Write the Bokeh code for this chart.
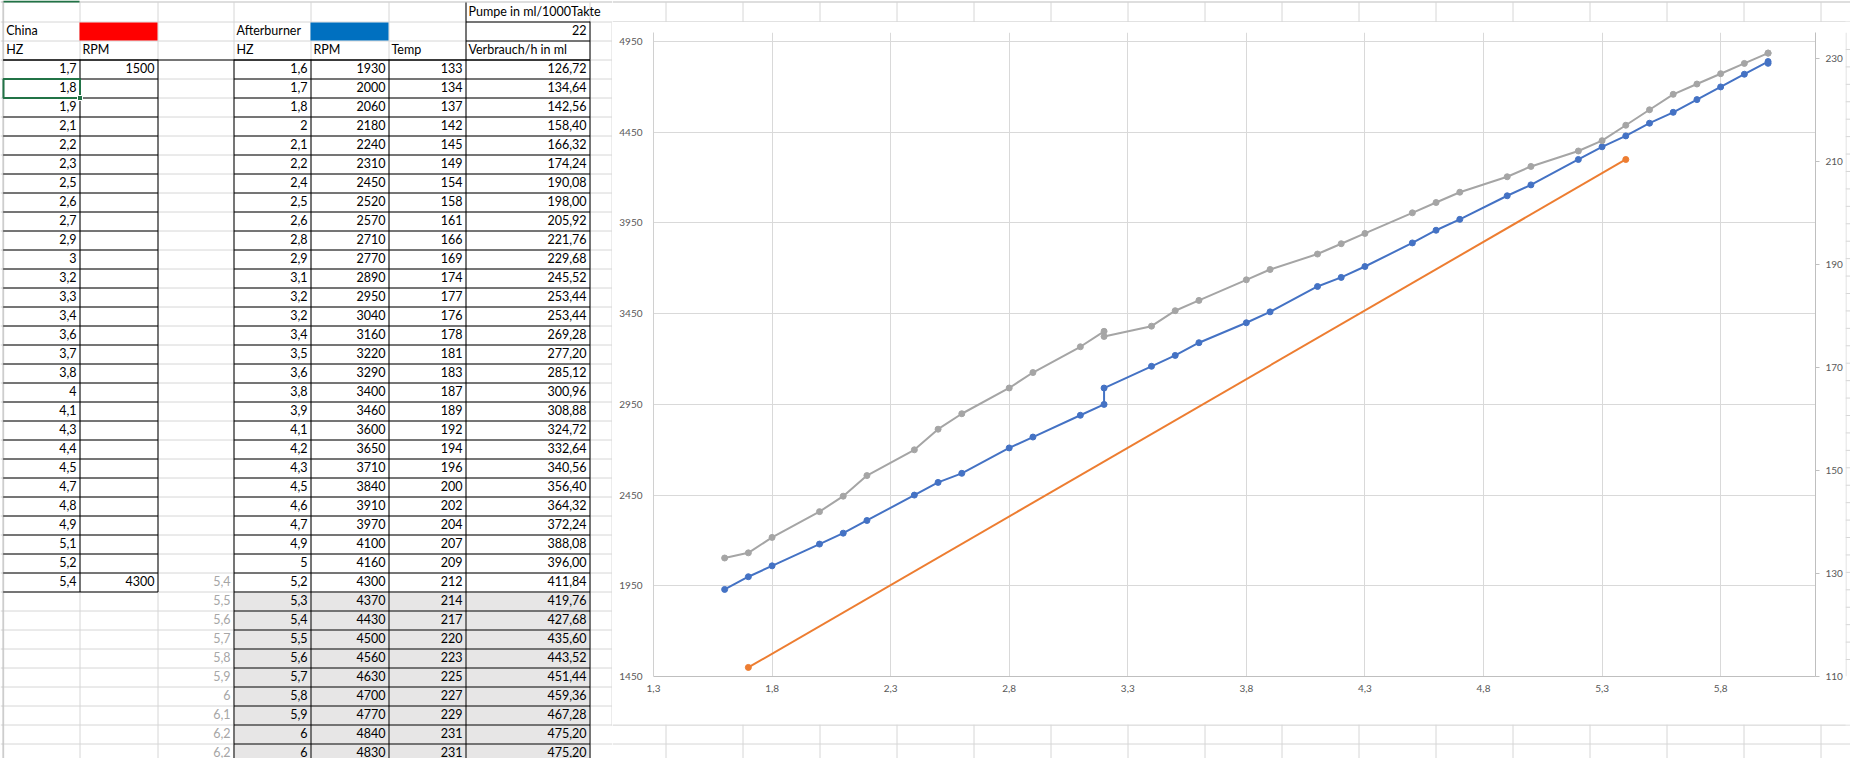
from bokeh.plotting import figure
from bokeh.layouts import row, column
from bokeh.models import Range1d, LinearAxis, FixedTicker, CustomJSTickFormatter
from bokeh.core.properties import value
from bokeh.embed import file_html
from bokeh.resources import INLINE

# ---------------- data ----------------
china_hz = [1.7, 1.8, 1.9, 2.1, 2.2, 2.3, 2.5, 2.6, 2.7, 2.9, 3.0, 3.2, 3.3, 3.4,
            3.6, 3.7, 3.8, 4.0, 4.1, 4.3, 4.4, 4.5, 4.7, 4.8, 4.9, 5.1, 5.2, 5.4]
china_rpm = [1500] + [None] * 26 + [4300]

ab_hz = [1.6, 1.7, 1.8, 2.0, 2.1, 2.2, 2.4, 2.5, 2.6, 2.8, 2.9, 3.1, 3.2, 3.2, 3.4,
         3.5, 3.6, 3.8, 3.9, 4.1, 4.2, 4.3, 4.5, 4.6, 4.7, 4.9, 5.0, 5.2, 5.3, 5.4,
         5.5, 5.6, 5.7, 5.8, 5.9, 6.0, 6.0]
ab_rpm = [1930, 2000, 2060, 2180, 2240, 2310, 2450, 2520, 2570, 2710, 2770, 2890,
          2950, 3040, 3160, 3220, 3290, 3400, 3460, 3600, 3650, 3710, 3840, 3910,
          3970, 4100, 4160, 4300, 4370, 4430, 4500, 4560, 4630, 4700, 4770, 4840, 4830]
ab_temp = [133, 134, 137, 142, 145, 149, 154, 158, 161, 166, 169, 174, 177, 176,
           178, 181, 183, 187, 189, 192, 194, 196, 200, 202, 204, 207, 209, 212,
           214, 217, 220, 223, 225, 227, 229, 231, 231]
ab_verbrauch = [126.72, 134.64, 142.56, 158.40, 166.32, 174.24, 190.08, 198.00,
                205.92, 221.76, 229.68, 245.52, 253.44, 253.44, 269.28, 277.20,
                285.12, 300.96, 308.88, 324.72, 332.64, 340.56, 356.40, 364.32,
                372.24, 388.08, 396.00, 411.84, 419.76, 427.68, 435.60, 443.52,
                451.44, 459.36, 467.28, 475.20, 475.20]
extra_hz = [5.4, 5.5, 5.6, 5.7, 5.8, 5.9, 6.0, 6.1, 6.2, 6.2]
pump_ml_per_1000 = 22

x_ticks = [1.3, 1.8, 2.3, 2.8, 3.3, 3.8, 4.3, 4.8, 5.3, 5.8]
rpm_ticks = [1450, 1950, 2450, 2950, 3450, 3950, 4450, 4950]
temp_ticks = [110, 130, 150, 170, 190, 210, 230]

# ---------------- geometry of the page (px) ----------------
PX0, PX1, PY0, PY1 = 0, 1850, 0, 758
CX0, CX1, CY0, CY1 = 612, 1845, 22, 724
ROW_TOP0, ROW_H = 2, 19
COL_EDGES = [2.7, 79, 157, 233, 310, 388, 465, 589] + [665 + 77 * k for k in range(16)]

GRID_C = "#D6D6D6"
HEAD_C = "#BDBDBD"
CHART_BORDER = "#D9D9D9"
SHEET_FONT = value("Lato")
SHEET_SIZE = "12.5px"


def row_top(r):
    return ROW_TOP0 + ROW_H * r


def fmt_hz(v):
    s = f"{v:.1f}"
    if s.endswith(".0"):
        s = s[:-2]
    return s.replace(".", ",")


def fmt2(v):
    return f"{v:.2f}".replace(".", ",")


def sheet_fig(x0, x1, y0, y1):
    p = figure(width=int(x1 - x0), height=int(y1 - y0),
               x_range=Range1d(x0, x1), y_range=Range1d(y1, y0),
               output_backend="svg", toolbar_location=None,
               x_axis_location=None, y_axis_location=None,
               min_border=0, outline_line_color=None,
               background_fill_color="white", border_fill_color="white")
    p.grid.visible = False
    return p


def grid_lines(p, x0, x1, y0, y1):
    hy = [row_top(k) + 0.5 for k in range(1, 42) if y0 <= row_top(k) + 0.5 <= y1]
    if hy:
        p.segment(x0=x0, y0=hy, x1=x1, y1=hy, line_color=GRID_C, line_width=1)
    vx = [e + 0.5 for e in COL_EDGES if x0 <= e + 0.5 <= x1]
    if vx:
        p.segment(x0=vx, y0=max(y0, 2), x1=vx, y1=y1, line_color=GRID_C, line_width=1)
    if y0 <= 1.5:
        p.segment(x0=x0, y0=1.5, x1=x1, y1=1.5, line_color=HEAD_C, line_width=1)


# ---------------- left part of the sheet ----------------
left = sheet_fig(PX0, CX0, PY0, PY1)
grid_lines(left, PX0, CX0, PY0, PY1)
left.segment(x0=2.5, y0=0, x1=2.5, y1=PY1, line_color=HEAD_C, line_width=1)

# coloured cells
left.quad(left=[79, 310], right=[157, 388], top=[row_top(1) + 1, row_top(1) + 1],
          bottom=[row_top(2), row_top(2)], fill_color=["#FF0000", "#0070C0"], line_color=None)
n_grey_rows = len(ab_hz) - 28
left.quad(left=233, right=589, top=row_top(31) + 1, bottom=row_top(31 + n_grey_rows) + 1,
          fill_color="#E7E6E6", line_color=None)

# black table borders
china_rows = len(china_hz)
hy = [row_top(r) + 0.5 for r in range(3, 3 + china_rows + 1)]
left.segment(x0=2.7, y0=hy, x1=157.5, y1=hy, line_color="black", line_width=1)
left.segment(x0=[79.5, 157.5], y0=row_top(3), x1=[79.5, 157.5], y1=row_top(3 + china_rows) + 0.5,
             line_color="black", line_width=1)

ab_rows = len(ab_hz)
hy = [row_top(r) + 0.5 for r in range(3, 3 + ab_rows + 1)]
left.segment(x0=233.5, y0=hy, x1=589.5, y1=hy, line_color="black", line_width=1)
vx = [233.5, 310.5, 388.5, 465.5, 589.5]
left.segment(x0=vx, y0=row_top(3), x1=vx, y1=row_top(3 + ab_rows) + 0.5,
             line_color="black", line_width=1)
# Pumpe / Verbrauch header box
left.segment(x0=[465.5, 589.5], y0=[2, row_top(1)], x1=[465.5, 589.5], y1=row_top(3),
             line_color="black", line_width=1)
left.segment(x0=465.5, y0=[row_top(1) + 0.5, row_top(2) + 0.5], x1=589.5,
             y1=[row_top(1) + 0.5, row_top(2) + 0.5], line_color="black", line_width=1)
left.segment(x0=2.7, y0=row_top(3) + 0.5, x1=589.5, y1=row_top(3) + 0.5,
             line_color="black", line_width=1)

# chart object border (left edge)
left.segment(x0=CX0 - 0.5, y0=CY0, x1=CX0 - 0.5, y1=CY1 + 1, line_color=CHART_BORDER, line_width=1)

# selected column header marker
left.segment(x0=3, y0=1, x1=79, y1=1, line_color="#217346", line_width=2)

# texts
lx, ly, lt = [], [], []
rx, ry, rt = [], [], []
PAD = 3
MID = 8.5


def put_left(col, r, s):
    lx.append(COL_EDGES[col] + PAD)
    ly.append(row_top(r) + MID)
    lt.append(s)


def put_right(col, r, s):
    rx.append(COL_EDGES[col + 1] - PAD)
    ry.append(row_top(r) + MID)
    rt.append(s)


put_left(6, 0, "Pumpe in ml/1000Takte")
put_left(0, 1, "China")
put_left(3, 1, "Afterburner")
put_right(6, 1, str(pump_ml_per_1000))
put_left(0, 2, "HZ")
put_left(1, 2, "RPM")
put_left(3, 2, "HZ")
put_left(4, 2, "RPM")
put_left(5, 2, "Temp")
put_left(6, 2, "Verbrauch/h in ml")
for i, (h, rpm) in enumerate(zip(china_hz, china_rpm)):
    put_right(0, 3 + i, fmt_hz(h))
    if rpm is not None:
        put_right(1, 3 + i, str(rpm))
for i, (h, rpm, t, v) in enumerate(zip(ab_hz, ab_rpm, ab_temp, ab_verbrauch)):
    put_right(3, 3 + i, fmt_hz(h))
    put_right(4, 3 + i, str(rpm))
    put_right(5, 3 + i, str(t))
    put_right(6, 3 + i, fmt2(v))

left.text(x=lx, y=ly, text=lt, text_align="left", text_baseline="middle",
          text_font=SHEET_FONT, text_font_size=SHEET_SIZE, text_color="black")
left.text(x=rx, y=ry, text=rt, text_align="right", text_baseline="middle",
          text_font=SHEET_FONT, text_font_size=SHEET_SIZE, text_color="black")
gx = [COL_EDGES[3] - PAD] * len(extra_hz)
gy = [row_top(30 + i) + MID for i in range(len(extra_hz))]
left.text(x=gx, y=gy, text=[fmt_hz(v) for v in extra_hz], text_align="right",
          text_baseline="middle", text_font=SHEET_FONT, text_font_size=SHEET_SIZE,
          text_color="#A6A6A6")

# selected cell
left.quad(left=3, right=79.5, top=row_top(4) + 0.5, bottom=row_top(5) + 0.5,
          fill_color=None, line_color="#217346", line_width=2)
left.quad(left=77, right=82, top=row_top(5) - 2, bottom=row_top(5) + 3,
          fill_color="#217346", line_color="white", line_width=1)

# ---------------- strips around the chart ----------------
top = sheet_fig(CX0, PX1, PY0, CY0)
grid_lines(top, CX0, PX1, PY0, CY0)
top.segment(x0=CX0, y0=CY0 - 0.5, x1=CX1, y1=CY0 - 0.5, line_color=CHART_BORDER, line_width=1)

bottom = sheet_fig(CX0, PX1, CY1, PY1)
grid_lines(bottom, CX0, PX1, CY1, PY1)
bottom.segment(x0=CX0, y0=CY1 + 0.5, x1=CX1, y1=CY1 + 0.5, line_color=CHART_BORDER, line_width=1)

rstrip = sheet_fig(CX1, PX1, CY0, CY1)
grid_lines(rstrip, CX1, PX1, CY0, CY1)
rstrip.segment(x0=CX1 + 0.5, y0=CY0, x1=CX1 + 0.5, y1=CY1, line_color=CHART_BORDER, line_width=1)

# ---------------- the chart ----------------
CH_W, CH_H = CX1 - CX0, CY1 - CY0
p = figure(width=CH_W, height=CH_H, x_range=Range1d(1.3, 6.2), y_range=Range1d(1450, 5000),
           output_backend="svg", toolbar_location=None,
           min_border_left=41, min_border_right=30, min_border_top=10, min_border_bottom=48,
           outline_line_color=None, background_fill_color="white", border_fill_color="white")
p.extra_y_ranges = {"temp": Range1d(110, 235)}

AX_FONT = "Lato"
AX_SIZE = "10px"
AX_COL = "#595959"

xa = p.xaxis[0]
xa.ticker = FixedTicker(ticks=x_ticks)
xa.formatter = CustomJSTickFormatter(code="return tick.toFixed(1).replace('.', ',');")
xa.major_tick_out = 0
xa.major_tick_in = 0
xa.minor_tick_out = 0
xa.minor_tick_in = 0
xa.major_label_standoff = 8
xa.axis_line_color = "#BFBFBF"

ya = p.yaxis[0]
ya.ticker = FixedTicker(ticks=rpm_ticks)
ya.major_tick_out = 0
ya.major_tick_in = 0
ya.minor_tick_out = 0
ya.minor_tick_in = 0
ya.major_label_standoff = 11
ya.axis_line_color = "#D0D0D0"

ra = LinearAxis(y_range_name="temp", ticker=FixedTicker(ticks=temp_ticks))
ra.major_tick_out = 4
ra.major_tick_in = 0
ra.minor_tick_out = 0
ra.minor_tick_in = 0
ra.major_label_standoff = 6
ra.axis_line_color = "#BFBFBF"
ra.major_tick_line_color = "#BFBFBF"
p.add_layout(ra, "right")

for ax in (xa, ya, ra):
    ax.major_label_text_font = AX_FONT
    ax.major_label_text_font_size = AX_SIZE
    ax.major_label_text_color = AX_COL

p.xgrid.grid_line_color = "#D9D9D9"
p.ygrid.grid_line_color = "#D9D9D9"
p.xgrid.ticker = FixedTicker(ticks=x_ticks)
p.ygrid.ticker = FixedTicker(ticks=rpm_ticks)

BLUE, ORANGE, GREY = "#4472C4", "#ED7D31", "#A5A5A5"

p.line(ab_hz, ab_rpm, line_color=BLUE, line_width=2)
p.scatter(ab_hz, ab_rpm, size=6, fill_color=BLUE, line_color=BLUE)

cx = [h for h, r in zip(china_hz, china_rpm) if r is not None]
cy = [r for r in china_rpm if r is not None]
p.line(cx, cy, line_color=ORANGE, line_width=2)
p.scatter(cx, cy, size=6, fill_color=ORANGE, line_color=ORANGE)

p.line(ab_hz, ab_temp, line_color=GREY, line_width=2, y_range_name="temp")
p.scatter(ab_hz, ab_temp, size=6, fill_color=GREY, line_color=GREY, y_range_name="temp")

layout = row(left, column(top, row(p, rstrip, spacing=0), bottom, spacing=0), spacing=0)

with open("out.html", "w") as f:
    f.write(file_html(layout, INLINE))
